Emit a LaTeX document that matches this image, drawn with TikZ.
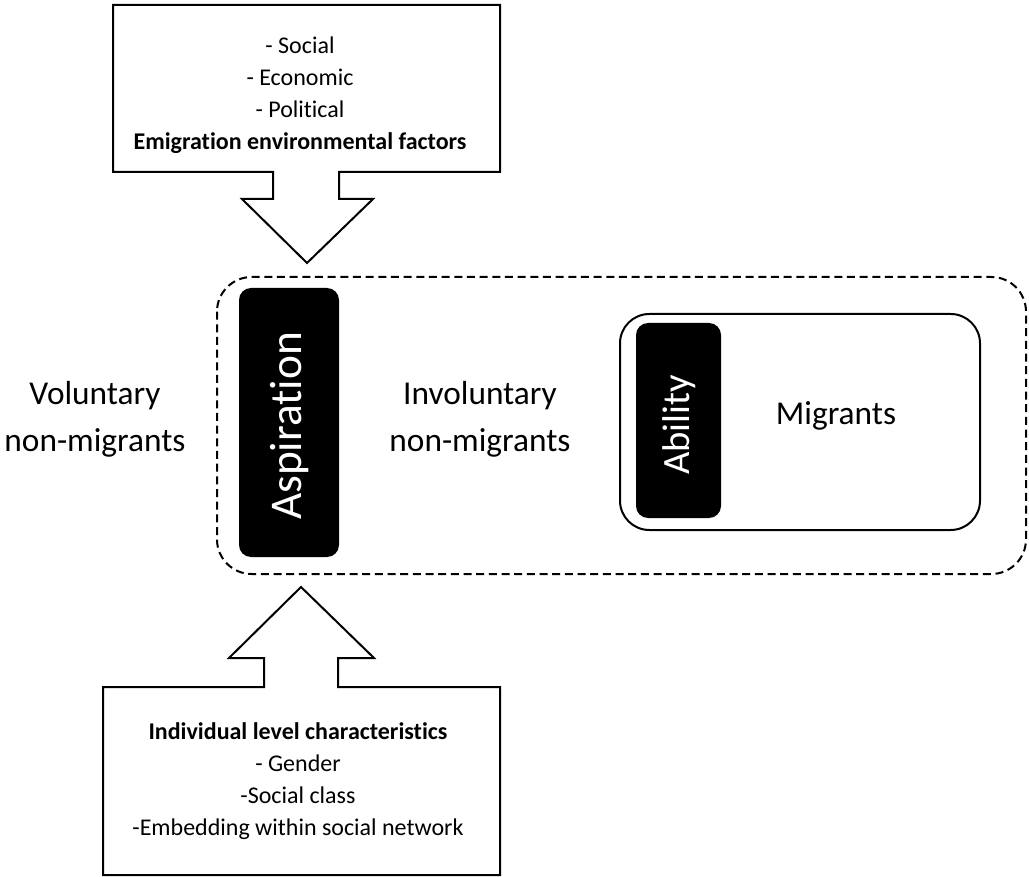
\documentclass[tikz,border=0pt]{standalone}
\usepackage{fontspec}
\setmainfont{Carlito}[Ligatures=NoCommon]

\begin{document}
\begin{tikzpicture}[x=0.75pt,y=-0.75pt,
    outline/.style={draw=black, line width=1.5pt, line join=miter},
    blackbox/.style={fill=black, rounded corners=9pt},
    listtext/.style={font=\fontsize{18}{24}\selectfont, align=center},
    bigtext/.style={font=\fontsize{25}{35}\selectfont, align=center}]
  \useasboundingbox (0,0) rectangle (1029,877);
  % Emigration factors, arrow pointing down
  \draw[outline] (113,5) -- (500,5) -- (500,172) -- (339,172) -- (339,199)
    -- (373,199) -- (307,263) -- (242,199) -- (273,199) -- (273,172)
    -- (113,172) -- cycle;
  \node[listtext] (envfactors) at (300,95)
    {- Social\\- Economic\\- Political\\\textbf{Emigration environmental factors}};
  % Individual characteristics, arrow pointing up
  \draw[outline] (301,587) -- (374,658) -- (338,658) -- (338,687) -- (500,687)
    -- (500,875) -- (103,875) -- (103,687) -- (264,687) -- (264,658)
    -- (229,658) -- cycle;
  \node[listtext] (indchar) at (298,781)
    {\textbf{Individual level characteristics}\\- Gender\\-Social class\\-Embedding within social network};
  % Dashed frame
  \draw[line width=1.5pt, dash pattern=on 6pt off 3.5pt, rounded corners=26pt]
    (217,277) rectangle (1026,574);
  % Aspiration bar
  \fill[blackbox] (239,288) rectangle (339,557);
  \node[white, rotate=90, font=\fontsize{34}{40}\selectfont] (aspiration) at (290,426) {Aspiration};
  % Migrants box with ability bar
  \draw[line width=1.5pt, rounded corners=22pt] (620,314) rectangle (980,530);
  \fill[blackbox] (636,323) rectangle (721,518);
  \node[white, rotate=90, font=\fontsize{29}{34}\selectfont] (ability) at (679,425) {Ability};
  \node[bigtext] (migrants) at (836,416) {Migrants};
  % Groups
  \node[bigtext] (voluntary) at (95,419) {Voluntary\\non-migrants};
  \node[bigtext] (involuntary) at (480,419) {Involuntary\\non-migrants};
\end{tikzpicture}
\end{document}
